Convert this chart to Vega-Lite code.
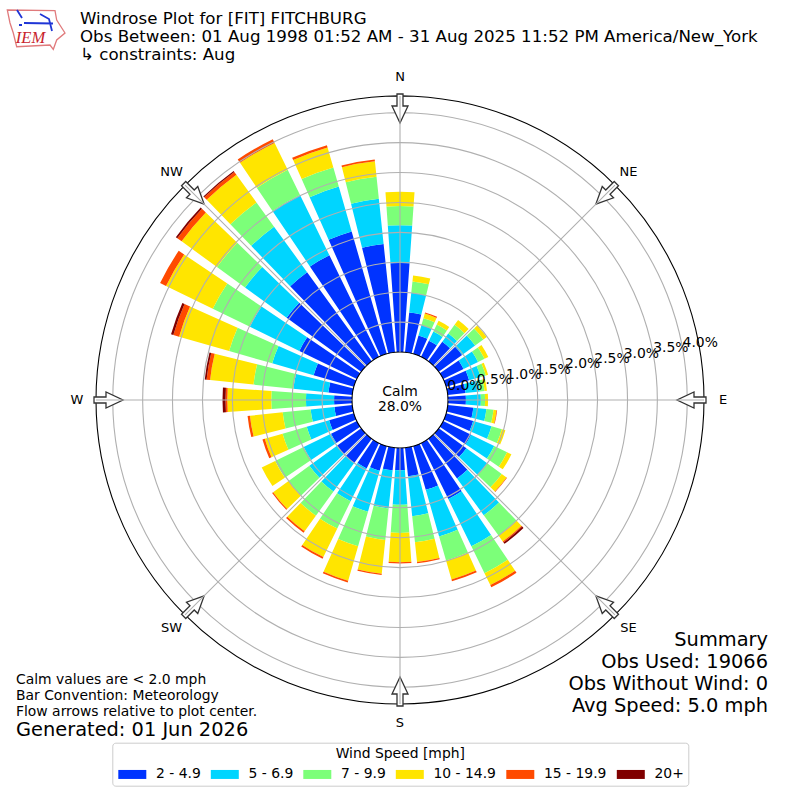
{
"$schema":"https://vega.github.io/schema/vega-lite/v6.json",
"width":800,"height":800,"autosize":"none","padding":0,"background":"white",
"title":{"text":["Windrose Plot for [FIT] FITCHBURG","Obs Between: 01 Aug 1998 01:52 AM - 31 Aug 2025 11:52 PM America/New_York","\u00a0↳ constraints: Aug"],"anchor":"start","frame":"group","dx":80,"offset":-64,"fontSize":16.67,"fontWeight":"normal","lineHeight":18,"font":"DejaVu Sans","color":"black"},
"datasets":{
"bars":[
{"dir":0,"speed":"2 - 4.9","lo":0,"hi":1.49},{"dir":0,"speed":"5 - 6.9","lo":1.49,"hi":2.12},{"dir":0,"speed":"7 - 9.9","lo":2.12,"hi":2.44},{"dir":0,"speed":"10 - 14.9","lo":2.44,"hi":2.68},
{"dir":10,"speed":"2 - 4.9","lo":0,"hi":0.67},{"dir":10,"speed":"5 - 6.9","lo":0.67,"hi":1.0},{"dir":10,"speed":"7 - 9.9","lo":1.0,"hi":1.19},{"dir":10,"speed":"10 - 14.9","lo":1.19,"hi":1.29},
{"dir":20,"speed":"2 - 4.9","lo":0,"hi":0.32},{"dir":20,"speed":"5 - 6.9","lo":0.32,"hi":0.5},{"dir":20,"speed":"7 - 9.9","lo":0.5,"hi":0.62},{"dir":20,"speed":"10 - 14.9","lo":0.62,"hi":0.7},{"dir":20,"speed":"15 - 19.9","lo":0.7,"hi":0.72},
{"dir":30,"speed":"2 - 4.9","lo":0,"hi":0.3},{"dir":30,"speed":"5 - 6.9","lo":0.3,"hi":0.47},{"dir":30,"speed":"7 - 9.9","lo":0.47,"hi":0.6},{"dir":30,"speed":"10 - 14.9","lo":0.6,"hi":0.67},
{"dir":40,"speed":"2 - 4.9","lo":0,"hi":0.4},{"dir":40,"speed":"5 - 6.9","lo":0.4,"hi":0.57},{"dir":40,"speed":"7 - 9.9","lo":0.57,"hi":0.75},{"dir":40,"speed":"10 - 14.9","lo":0.75,"hi":0.85},
{"dir":50,"speed":"2 - 4.9","lo":0,"hi":0.48},{"dir":50,"speed":"5 - 6.9","lo":0.48,"hi":0.75},{"dir":50,"speed":"7 - 9.9","lo":0.75,"hi":0.92},{"dir":50,"speed":"10 - 14.9","lo":0.92,"hi":0.99},
{"dir":60,"speed":"2 - 4.9","lo":0,"hi":0.38},{"dir":60,"speed":"5 - 6.9","lo":0.38,"hi":0.65},{"dir":60,"speed":"7 - 9.9","lo":0.65,"hi":0.77},{"dir":60,"speed":"10 - 14.9","lo":0.77,"hi":0.84},
{"dir":70,"speed":"2 - 4.9","lo":0,"hi":0.4},{"dir":70,"speed":"5 - 6.9","lo":0.4,"hi":0.6},{"dir":70,"speed":"7 - 9.9","lo":0.6,"hi":0.69},{"dir":70,"speed":"10 - 14.9","lo":0.69,"hi":0.73},
{"dir":80,"speed":"2 - 4.9","lo":0,"hi":0.3},{"dir":80,"speed":"5 - 6.9","lo":0.3,"hi":0.54},{"dir":80,"speed":"7 - 9.9","lo":0.54,"hi":0.62},{"dir":80,"speed":"10 - 14.9","lo":0.62,"hi":0.66},
{"dir":90,"speed":"2 - 4.9","lo":0,"hi":0.3},{"dir":90,"speed":"5 - 6.9","lo":0.3,"hi":0.55},{"dir":90,"speed":"7 - 9.9","lo":0.55,"hi":0.62},{"dir":90,"speed":"10 - 14.9","lo":0.62,"hi":0.67},
{"dir":100,"speed":"2 - 4.9","lo":0,"hi":0.43},{"dir":100,"speed":"5 - 6.9","lo":0.43,"hi":0.65},{"dir":100,"speed":"7 - 9.9","lo":0.65,"hi":0.77},{"dir":100,"speed":"10 - 14.9","lo":0.77,"hi":0.82},{"dir":100,"speed":"15 - 19.9","lo":0.82,"hi":0.83},
{"dir":110,"speed":"2 - 4.9","lo":0,"hi":0.47},{"dir":110,"speed":"5 - 6.9","lo":0.47,"hi":0.79},{"dir":110,"speed":"7 - 9.9","lo":0.79,"hi":0.97},{"dir":110,"speed":"10 - 14.9","lo":0.97,"hi":1.03},
{"dir":120,"speed":"2 - 4.9","lo":0,"hi":0.52},{"dir":120,"speed":"5 - 6.9","lo":0.52,"hi":0.95},{"dir":120,"speed":"7 - 9.9","lo":0.95,"hi":1.19},{"dir":120,"speed":"10 - 14.9","lo":1.19,"hi":1.27},
{"dir":130,"speed":"2 - 4.9","lo":0,"hi":0.57},{"dir":130,"speed":"5 - 6.9","lo":0.57,"hi":1.0},{"dir":130,"speed":"7 - 9.9","lo":1.0,"hi":1.3},{"dir":130,"speed":"10 - 14.9","lo":1.3,"hi":1.4},{"dir":130,"speed":"15 - 19.9","lo":1.4,"hi":1.41},
{"dir":140,"speed":"2 - 4.9","lo":0,"hi":0.82},{"dir":140,"speed":"5 - 6.9","lo":0.82,"hi":1.58},{"dir":140,"speed":"7 - 9.9","lo":1.58,"hi":2.0},{"dir":140,"speed":"10 - 14.9","lo":2.0,"hi":2.12},{"dir":140,"speed":"15 - 19.9","lo":2.12,"hi":2.14},{"dir":140,"speed":"20+","lo":2.14,"hi":2.17},
{"dir":150,"speed":"2 - 4.9","lo":0,"hi":1.04},{"dir":150,"speed":"5 - 6.9","lo":1.04,"hi":1.92},{"dir":150,"speed":"7 - 9.9","lo":1.92,"hi":2.42},{"dir":150,"speed":"10 - 14.9","lo":2.42,"hi":2.64},{"dir":150,"speed":"15 - 19.9","lo":2.64,"hi":2.68},
{"dir":160,"speed":"2 - 4.9","lo":0,"hi":0.76},{"dir":160,"speed":"5 - 6.9","lo":0.76,"hi":1.57},{"dir":160,"speed":"7 - 9.9","lo":1.57,"hi":1.99},{"dir":160,"speed":"10 - 14.9","lo":1.99,"hi":2.32},{"dir":160,"speed":"15 - 19.9","lo":2.32,"hi":2.35},
{"dir":170,"speed":"2 - 4.9","lo":0,"hi":0.48},{"dir":170,"speed":"5 - 6.9","lo":0.48,"hi":1.15},{"dir":170,"speed":"7 - 9.9","lo":1.15,"hi":1.59},{"dir":170,"speed":"10 - 14.9","lo":1.59,"hi":1.92},{"dir":170,"speed":"15 - 19.9","lo":1.92,"hi":1.94},
{"dir":180,"speed":"2 - 4.9","lo":0,"hi":0.37},{"dir":180,"speed":"5 - 6.9","lo":0.37,"hi":0.95},{"dir":180,"speed":"7 - 9.9","lo":0.95,"hi":1.42},{"dir":180,"speed":"10 - 14.9","lo":1.42,"hi":1.91},{"dir":180,"speed":"15 - 19.9","lo":1.91,"hi":1.93},
{"dir":190,"speed":"2 - 4.9","lo":0,"hi":0.38},{"dir":190,"speed":"5 - 6.9","lo":0.38,"hi":1.02},{"dir":190,"speed":"7 - 9.9","lo":1.02,"hi":1.55},{"dir":190,"speed":"10 - 14.9","lo":1.55,"hi":2.12},{"dir":190,"speed":"15 - 19.9","lo":2.12,"hi":2.14},
{"dir":200,"speed":"2 - 4.9","lo":0,"hi":0.43},{"dir":200,"speed":"5 - 6.9","lo":0.43,"hi":1.14},{"dir":200,"speed":"7 - 9.9","lo":1.14,"hi":1.74},{"dir":200,"speed":"10 - 14.9","lo":1.74,"hi":2.34},{"dir":200,"speed":"15 - 19.9","lo":2.34,"hi":2.37},
{"dir":210,"speed":"2 - 4.9","lo":0,"hi":0.47},{"dir":210,"speed":"5 - 6.9","lo":0.47,"hi":1.08},{"dir":210,"speed":"7 - 9.9","lo":1.08,"hi":1.59},{"dir":210,"speed":"10 - 14.9","lo":1.59,"hi":2.12},{"dir":210,"speed":"15 - 19.9","lo":2.12,"hi":2.15},
{"dir":220,"speed":"2 - 4.9","lo":0,"hi":0.5},{"dir":220,"speed":"5 - 6.9","lo":0.5,"hi":1.09},{"dir":220,"speed":"7 - 9.9","lo":1.09,"hi":1.59},{"dir":220,"speed":"10 - 14.9","lo":1.59,"hi":1.91},{"dir":220,"speed":"15 - 19.9","lo":1.91,"hi":1.94},
{"dir":230,"speed":"2 - 4.9","lo":0,"hi":0.5},{"dir":230,"speed":"5 - 6.9","lo":0.5,"hi":1.07},{"dir":230,"speed":"7 - 9.9","lo":1.07,"hi":1.5},{"dir":230,"speed":"10 - 14.9","lo":1.5,"hi":1.82},{"dir":230,"speed":"15 - 19.9","lo":1.82,"hi":1.84},
{"dir":240,"speed":"2 - 4.9","lo":0,"hi":0.48},{"dir":240,"speed":"5 - 6.9","lo":0.48,"hi":0.99},{"dir":240,"speed":"7 - 9.9","lo":0.99,"hi":1.52},{"dir":240,"speed":"10 - 14.9","lo":1.52,"hi":1.77},
{"dir":250,"speed":"2 - 4.9","lo":0,"hi":0.43},{"dir":250,"speed":"5 - 6.9","lo":0.43,"hi":0.82},{"dir":250,"speed":"7 - 9.9","lo":0.82,"hi":1.24},{"dir":250,"speed":"10 - 14.9","lo":1.24,"hi":1.55},{"dir":250,"speed":"15 - 19.9","lo":1.55,"hi":1.59},
{"dir":260,"speed":"2 - 4.9","lo":0,"hi":0.3},{"dir":260,"speed":"5 - 6.9","lo":0.3,"hi":0.7},{"dir":260,"speed":"7 - 9.9","lo":0.7,"hi":1.17},{"dir":260,"speed":"10 - 14.9","lo":1.17,"hi":1.72},{"dir":260,"speed":"15 - 19.9","lo":1.72,"hi":1.76},
{"dir":270,"speed":"2 - 4.9","lo":0,"hi":0.3},{"dir":270,"speed":"5 - 6.9","lo":0.3,"hi":0.77},{"dir":270,"speed":"7 - 9.9","lo":0.77,"hi":1.35},{"dir":270,"speed":"10 - 14.9","lo":1.35,"hi":2.085},{"dir":270,"speed":"15 - 19.9","lo":2.085,"hi":2.115},{"dir":270,"speed":"20+","lo":2.115,"hi":2.165},
{"dir":280,"speed":"2 - 4.9","lo":0,"hi":0.4},{"dir":280,"speed":"5 - 6.9","lo":0.4,"hi":0.99},{"dir":280,"speed":"7 - 9.9","lo":0.99,"hi":1.66},{"dir":280,"speed":"10 - 14.9","lo":1.66,"hi":2.39},{"dir":280,"speed":"15 - 19.9","lo":2.39,"hi":2.45},{"dir":280,"speed":"20+","lo":2.45,"hi":2.48},
{"dir":290,"speed":"2 - 4.9","lo":0,"hi":0.7},{"dir":290,"speed":"5 - 6.9","lo":0.7,"hi":1.42},{"dir":290,"speed":"7 - 9.9","lo":1.42,"hi":2.17},{"dir":290,"speed":"10 - 14.9","lo":2.17,"hi":3.04},{"dir":290,"speed":"15 - 19.9","lo":3.04,"hi":3.14},{"dir":290,"speed":"20+","lo":3.14,"hi":3.18},
{"dir":300,"speed":"2 - 4.9","lo":0,"hi":1.07},{"dir":300,"speed":"5 - 6.9","lo":1.07,"hi":1.99},{"dir":300,"speed":"7 - 9.9","lo":1.99,"hi":2.68},{"dir":300,"speed":"10 - 14.9","lo":2.68,"hi":3.55},{"dir":300,"speed":"15 - 19.9","lo":3.55,"hi":3.66},
{"dir":310,"speed":"2 - 4.9","lo":0,"hi":1.54},{"dir":310,"speed":"5 - 6.9","lo":1.54,"hi":2.4},{"dir":310,"speed":"7 - 9.9","lo":2.4,"hi":2.98},{"dir":310,"speed":"10 - 14.9","lo":2.98,"hi":3.71},{"dir":310,"speed":"15 - 19.9","lo":3.71,"hi":3.8},{"dir":310,"speed":"20+","lo":3.8,"hi":3.83},
{"dir":320,"speed":"2 - 4.9","lo":0,"hi":1.84},{"dir":320,"speed":"5 - 6.9","lo":1.84,"hi":2.78},{"dir":320,"speed":"7 - 9.9","lo":2.78,"hi":3.28},{"dir":320,"speed":"10 - 14.9","lo":3.28,"hi":3.85},{"dir":320,"speed":"15 - 19.9","lo":3.85,"hi":3.91},{"dir":320,"speed":"20+","lo":3.91,"hi":3.93},
{"dir":330,"speed":"2 - 4.9","lo":0,"hi":1.89},{"dir":330,"speed":"5 - 6.9","lo":1.89,"hi":3.01},{"dir":330,"speed":"7 - 9.9","lo":3.01,"hi":3.48},{"dir":330,"speed":"10 - 14.9","lo":3.48,"hi":3.98},{"dir":330,"speed":"15 - 19.9","lo":3.98,"hi":4.05},
{"dir":340,"speed":"2 - 4.9","lo":0,"hi":2.13},{"dir":340,"speed":"5 - 6.9","lo":2.13,"hi":2.91},{"dir":340,"speed":"7 - 9.9","lo":2.91,"hi":3.24},{"dir":340,"speed":"10 - 14.9","lo":3.24,"hi":3.59},{"dir":340,"speed":"15 - 19.9","lo":3.59,"hi":3.63},
{"dir":350,"speed":"2 - 4.9","lo":0,"hi":1.82},{"dir":350,"speed":"5 - 6.9","lo":1.82,"hi":2.58},{"dir":350,"speed":"7 - 9.9","lo":2.58,"hi":2.95},{"dir":350,"speed":"10 - 14.9","lo":2.95,"hi":3.21},{"dir":350,"speed":"15 - 19.9","lo":3.21,"hi":3.24}
],
"rings":[{"pct":0.5,"label":"0.5%"},{"pct":1.0,"label":"1.0%"},{"pct":1.5,"label":"1.5%"},{"pct":2.0,"label":"2.0%"},{"pct":2.5,"label":"2.5%"},{"pct":3.0,"label":"3.0%"},{"pct":3.5,"label":"3.5%"},{"pct":4.0,"label":"4.0%"}],
"border":[{"pct":0},{"pct":4.28}],
"compass":[{"dir":0,"label":"N"},{"dir":45,"label":"NE"},{"dir":90,"label":"E"},{"dir":135,"label":"SE"},{"dir":180,"label":"S"},{"dir":225,"label":"SW"},{"dir":270,"label":"W"},{"dir":315,"label":"NW"}]
},
"layer":[
{"data":{"name":"bars"},"mark":{"type":"arc"},
 "encoding":{
  "theta":{"field":"dir","type":"ordinal","scale":{"type":"band","domain":[0,10,20,30,40,50,60,70,80,90,100,110,120,130,140,150,160,170,180,190,200,210,220,230,240,250,260,270,280,290,300,310,320,330,340,350],"range":[-0.0873,6.1959],"paddingInner":0.2,"paddingOuter":0.1}},
  "radius":{"field":"lo","type":"quantitative","stack":null,"scale":{"domain":[0,4.28],"range":[48,304]}},
  "radius2":{"field":"hi"},
  "color":{"field":"speed","type":"nominal","scale":{"domain":["2 - 4.9","5 - 6.9","7 - 9.9","10 - 14.9","15 - 19.9","20+"],"range":["#0033ff","#00d5ff","#7cff79","#ffe500","#ff4a00","#800000"]},
   "legend":{"title":"Wind Speed [mph]","orient":"none","legendX":112.3,"legendY":742.7,"direction":"horizontal","columns":6,"titleAnchor":"middle","titleAlign":"center","titleFontSize":13.9,"titleFontWeight":"normal","titleColor":"black","labelFontSize":13.9,"labelColor":"black","labelOffset":19.7,"symbolType":"M-0.8,-0.45H2V0.45H-0.8Z","symbolSize":400,"symbolStrokeWidth":0,"columnPadding":7.5,"padding":4,"titlePadding":3.8,"strokeColor":"#cccccc","cornerRadius":3,"fillColor":"white"}}
 }},
{"data":{"name":"rings"},"mark":{"type":"arc","filled":false,"stroke":"#b0b0b0","strokeWidth":1.1,"theta":0,"theta2":6.2832},
 "encoding":{"radius":{"field":"pct","type":"quantitative","stack":null,"scale":{"domain":[0,4.28],"range":[48,304]}},"radius2":{"field":"pct"}}},
{"data":{"name":"border"},"mark":{"type":"arc","filled":false,"stroke":"black","strokeWidth":1.1,"theta":0,"theta2":6.2832},
 "encoding":{"radius":{"field":"pct","type":"quantitative","stack":null,"scale":{"domain":[0,4.28],"range":[48,304]}},"radius2":{"field":"pct"}}},
{"data":{"name":"compass"},"mark":{"type":"point","filled":true,"fill":"white","stroke":"#333333","strokeWidth":1.3,"opacity":1,"size":4,"shape":"M-3,-306H3V-294H8L0,-277L-8,-294H-3Z"},
 "encoding":{"angle":{"field":"dir","type":"quantitative","scale":{"domain":[0,360],"range":[0,360]}}}},
{"data":{"name":"compass"},"mark":{"type":"arc","filled":false,"stroke":"#b0b0b0","strokeWidth":1.1},
 "encoding":{
  "theta":{"field":"dir","type":"quantitative","stack":null,"scale":{"domain":[0,360],"range":[0,6.2832]}},"theta2":{"field":"dir"},
  "radius":{"datum":0,"type":"quantitative","scale":{"domain":[0,4.28],"range":[48,304]}},"radius2":{"datum":4.28}}},
{"data":{"name":"compass"},"mark":{"type":"text","fontSize":13,"font":"DejaVu Sans","color":"black","align":"center","baseline":"middle"},
 "encoding":{
  "theta":{"field":"dir","type":"quantitative","stack":null,"scale":{"domain":[0,360],"range":[0,6.2832]}},
  "radius":{"value":323},"text":{"field":"label"}}},
{"data":{"values":[{"pct":0,"label":"0.0%"},{"pct":0.5,"label":"0.5%"},{"pct":1.0,"label":"1.0%"},{"pct":1.5,"label":"1.5%"},{"pct":2.0,"label":"2.0%"},{"pct":2.5,"label":"2.5%"},{"pct":3.0,"label":"3.0%"},{"pct":3.5,"label":"3.5%"},{"pct":4.0,"label":"4.0%"}]},
 "mark":{"type":"text","fontSize":13.9,"font":"DejaVu Sans","color":"black","align":"left","baseline":"bottom","dy":1.5},
 "encoding":{"theta":{"value":1.39},"radius":{"field":"pct","type":"quantitative","stack":null,"scale":{"domain":[0,4.28],"range":[48,304]}},"text":{"field":"label"}}},
{"data":{"values":[{"label":"Calm"}]},"mark":{"type":"text","fontSize":13.9,"font":"DejaVu Sans","color":"black","align":"center","lineHeight":15,"baseline":"middle","dy":-8,"text":["Calm","28.0%"]},"encoding":{}},
{"data":{"values":[{"label":"Summary"}]},"mark":{"type":"text","x":768,"y":640,"fontSize":19.4,"font":"DejaVu Sans","color":"black","align":"right","baseline":"middle","lineHeight":22,"text":["Summary","Obs Used: 19066","Obs Without Wind: 0","Avg Speed: 5.0 mph"]},"encoding":{}},
{"data":{"values":[{"label":"Notes"}]},"mark":{"type":"text","x":16,"y":680,"fontSize":13.9,"font":"DejaVu Sans","color":"black","align":"left","baseline":"middle","lineHeight":16,"text":["Calm values are < 2.0 mph","Bar Convention: Meteorology","Flow arrows relative to plot center."]},"encoding":{}},
{"data":{"values":[{"label":"Generated"}]},"mark":{"type":"text","x":16,"y":730,"fontSize":19.4,"font":"DejaVu Sans","color":"black","align":"left","baseline":"middle","text":"Generated: 01 Jun 2026"},"encoding":{}},
{"data":{"values":[{"label":"logo"}]},"mark":{"type":"point","filled":false,"stroke":"#e07a7c","strokeWidth":1.3,"opacity":1,"size":4,"shape":"M-392.7,-390L-345,-389.3L-343.3,-380L-335,-367L-343.3,-360L-346.7,-350.7L-350,-355L-383.3,-353.3L-386.7,-367L-390,-377Z"},"encoding":{}},
{"data":{"values":[{"label":"barb"}]},"mark":{"type":"point","filled":false,"stroke":"#1f35d6","strokeWidth":1.8,"opacity":1,"size":4,"shape":"M-376,-377L-347,-376.5M-383,-390L-378,-382M-360,-386L-351,-381L-348,-369M-381,-375L-378,-375"},"encoding":{}},
{"data":{"values":[{"label":"IEM"}]},"mark":{"type":"text","x":30.5,"y":38,"fontSize":16.5,"font":"Liberation Serif","fontStyle":"italic","color":"#c8232c","align":"center","baseline":"middle","text":"IEM"},"encoding":{}}
],
"resolve":{"scale":{"theta":"independent"}},
"config":{"view":{"stroke":null},"font":"DejaVu Sans"}
}
